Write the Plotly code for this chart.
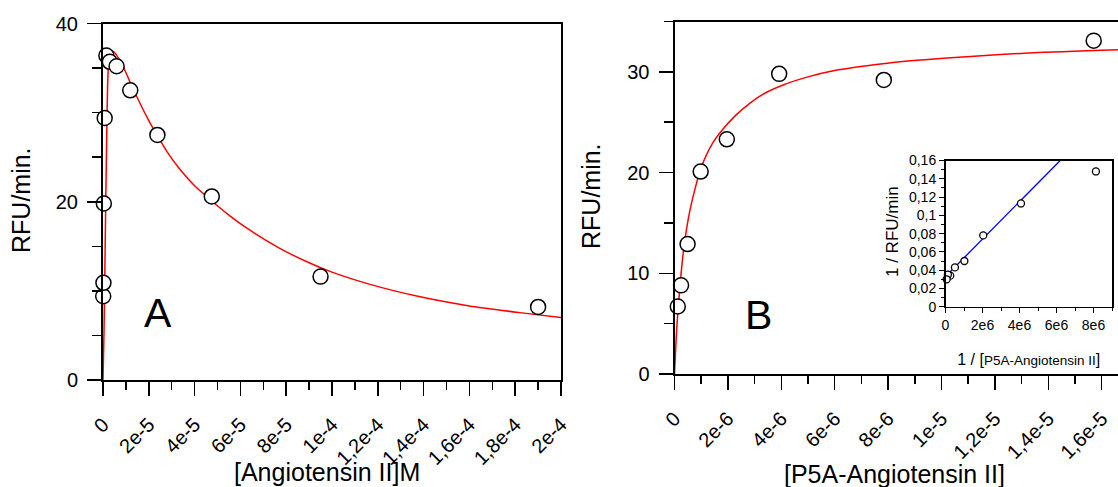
import plotly.graph_objects as go

W, H = 1118, 487
FONT = "Liberation Sans, Arial, sans-serif"

# ---------------- data ----------------
# Panel A: Angiotensin II (M) vs RFU/min
a_conc = [9.3e-8, 1.86e-7, 3.7e-7, 7.4e-7, 1.48e-6, 2.97e-6, 5.94e-6, 1.19e-5,
          2.375e-5, 4.75e-5, 9.5e-5, 1.9e-4]
a_rate = [9.4, 10.9, 19.8, 29.4, 36.4, 35.7, 35.2, 32.5, 27.5, 20.6, 11.6, 8.2]

# fitted curve A
a_fit_x = [0, 2e-7, 4.5e-7, 8e-7, 1.2e-6, 1.6e-6, 2e-6, 2.4e-6, 2.9e-6, 3.5e-6,
           4.3e-6, 5.5e-6, 7e-6, 8.5e-6, 1e-5, 1.2e-5, 1.4e-5, 1.7e-5, 2e-5,
           2.4e-5, 2.8e-5, 3.4e-5, 4e-5, 4.7e-5, 5.5e-5, 6.3e-5, 7.7e-5, 9e-5,
           1e-4, 1.17e-4, 1.38e-4, 1.6e-4, 1.82e-4, 2e-4]
a_fit_y = [0, 2.5, 5.5, 12, 20, 27, 33.0, 35.3, 36.4, 36.8, 36.9, 36.6, 36.0,
           35.3, 34.5, 33.3, 32.2, 30.6, 29.1, 27.3, 25.6, 23.5, 21.8, 20.2,
           18.5, 17.0, 14.8, 13.15, 12.1, 10.7, 9.36, 8.31, 7.56, 7.0]

# Panel B: P5A-Angiotensin II vs RFU/min
b_conc = [1.23e-7, 2.45e-7, 4.9e-7, 9.8e-7, 1.96e-6, 3.92e-6, 7.84e-6, 1.57e-5]
b_rate = [6.7, 8.8, 12.9, 20.1, 23.3, 29.8, 29.2, 33.1]

b_fit_x = [0, 9e-8, 2.2e-7, 3.4e-7, 5.3e-7, 7.8e-7, 1.0e-6, 1.4e-6, 1.78e-6,
           2.3e-6, 2.83e-6, 3.4e-6, 4.07e-6, 5e-6, 5.95e-6, 7.2e-6, 8.45e-6,
           1.094e-5, 1.344e-5, 1.661e-5]
b_fit_y = [0, 4.8, 9.2, 12.3, 15.6, 18.5, 20.5, 22.8, 24.2, 25.7, 26.9, 27.9,
           28.7, 29.5, 30.1, 30.6, 31.0, 31.5, 31.9, 32.2]

# Inset: Lineweaver-Burk
lb_x = [8.13e6, 4.08e6, 2.04e6, 1.02e6, 5.1e5, 2.55e5, 1.28e5, 6.4e4]
lb_y = [0.148, 0.113, 0.078, 0.050, 0.043, 0.034, 0.035, 0.030]
lb_line_x = [0, 6.2e6]
lb_line_y = [0.033, 0.16]

# tick labels
a_xticks = [0, 2e-5, 4e-5, 6e-5, 8e-5, 1e-4, 1.2e-4, 1.4e-4, 1.6e-4, 1.8e-4, 2e-4]
a_xlabels = ["0", "2e-5", "4e-5", "6e-5", "8e-5", "1e-4", "1,2e-4", "1,4e-4",
             "1,6e-4", "1,8e-4", "2e-4"]
a_yticks = [0, 20, 40]
b_xticks = [0, 2e-6, 4e-6, 6e-6, 8e-6, 1e-5, 1.2e-5, 1.4e-5, 1.6e-5]
b_xlabels = ["0", "2e-6", "4e-6", "6e-6", "8e-6", "1e-5", "1,2e-5", "1,4e-5", "1,6e-5"]
b_yticks = [0, 10, 20, 30]
in_xticks = [0, 2e6, 4e6, 6e6, 8e6]
in_xlabels = ["0", "2e6", "4e6", "6e6", "8e6"]
in_yticks = [0, 0.02, 0.04, 0.06, 0.08, 0.1, 0.12, 0.14, 0.16]
in_ylabels = ["0", "0,02", "0,04", "0,06", "0,08", "0,1", "0,12", "0,14", "0,16"]

# ---------------- figure ----------------
fig = go.Figure()
RED = "#ff0000"
marker_big = dict(symbol="circle", size=15, color="white",
                  line=dict(color="black", width=1.5))

fig.add_trace(go.Scatter(x=a_fit_x, y=a_fit_y, mode="lines",
                         line=dict(color=RED, width=1.5, shape="spline", smoothing=0.6),
                         xaxis="x", yaxis="y", showlegend=False))
fig.add_trace(go.Scatter(x=a_conc, y=a_rate, mode="markers", marker=marker_big,
                         cliponaxis=False, xaxis="x", yaxis="y", showlegend=False))
fig.add_trace(go.Scatter(x=b_fit_x, y=b_fit_y, mode="lines",
                         line=dict(color=RED, width=1.5, shape="spline", smoothing=0.6),
                         xaxis="x2", yaxis="y2", showlegend=False))
fig.add_trace(go.Scatter(x=b_conc, y=b_rate, mode="markers", marker=marker_big,
                         cliponaxis=False, xaxis="x2", yaxis="y2", showlegend=False))
fig.add_trace(go.Scatter(x=lb_line_x, y=lb_line_y, mode="lines",
                         line=dict(color="#0000ff", width=1.3),
                         xaxis="x3", yaxis="y3", showlegend=False))
fig.add_trace(go.Scatter(x=lb_x, y=lb_y, mode="markers",
                         marker=dict(symbol="circle", size=7, color="white",
                                     line=dict(color="black", width=1.3)),
                         cliponaxis=False, xaxis="x3", yaxis="y3", showlegend=False))

tickfont = dict(family=FONT, size=20, color="black")
smallfont = dict(family=FONT, size=14, color="black")

def main_axis(**kw):
    d = dict(showgrid=False, zeroline=False, showline=True, linecolor="black",
             linewidth=2, ticks="outside", ticklen=14, tickwidth=1.5,
             tickcolor="black", tickfont=tickfont, fixedrange=True,
             automargin=False)
    d.update(kw)
    return d

fig.update_layout(
    template="none",
    width=W, height=H, autosize=False,
    margin=dict(l=0, r=0, t=0, b=0, pad=0),
    paper_bgcolor="white", plot_bgcolor="rgba(0,0,0,0)",
    font=dict(family=FONT, color="black"),
    xaxis=main_axis(domain=[103 / W, 561 / W], range=[0, 2e-4], anchor="y",
                    tickmode="array", tickvals=a_xticks, ticktext=a_xlabels,
                    tickangle=-45, mirror=True, ticklabelstandoff=9,
                    minor=dict(dtick=1e-5, tick0=0, ticklen=8, ticks="outside",
                               tickcolor="black", tickwidth=1.5)),
    yaxis=main_axis(domain=[(H - 380) / H, (H - 23.5) / H], range=[0, 40], anchor="x",
                    tickmode="array", tickvals=a_yticks, mirror=True,
                    ticklabelstandoff=5,
                    minor=dict(dtick=5, tick0=0, ticklen=9, ticks="outside",
                               tickcolor="black", tickwidth=1.5)),
    xaxis2=main_axis(domain=[674.5 / W, 1.0], range=[0, 1.661e-5], anchor="y2",
                     tickmode="array", tickvals=b_xticks, ticktext=b_xlabels,
                     tickangle=-45, mirror=True, ticklabelstandoff=9,
                     minor=dict(dtick=1e-6, tick0=0, ticklen=8, ticks="outside",
                                tickcolor="black", tickwidth=1.5)),
    yaxis2=main_axis(domain=[(H - 374) / H, (H - 21.5) / H], range=[0, 35], anchor="x2",
                     tickmode="array", tickvals=b_yticks, mirror=False,
                     ticklabelstandoff=5,
                     minor=dict(dtick=5, tick0=0, ticklen=9, ticks="outside",
                                tickcolor="black", tickwidth=1.5)),
    xaxis3=dict(domain=[945.5 / W, 1112 / W], range=[0, 9e6], anchor="y3",
                showgrid=False, zeroline=False, showline=True, linecolor="black",
                linewidth=1.5, mirror=True, ticks="outside", ticklen=5, tickwidth=1,
                tickcolor="black", tickmode="array", tickvals=in_xticks,
                ticktext=in_xlabels, tickfont=smallfont, fixedrange=True,
                automargin=False,
                title=dict(text="1 / [<span style='font-size:13.5px'>P5A-Angiotensin II</span>]",
                           font=dict(family=FONT, size=16, color="black")),
                minor=dict(dtick=1e6, tick0=0, ticklen=3, ticks="outside",
                           tickcolor="black", tickwidth=1)),
    yaxis3=dict(domain=[(H - 306.7) / H, (H - 160.5) / H], range=[0, 0.16], anchor="x3",
                showgrid=False, zeroline=False, showline=True, linecolor="black",
                linewidth=1.5, mirror=True, ticks="outside", ticklen=5, tickwidth=1,
                tickcolor="black", tickmode="array", tickvals=in_yticks,
                ticktext=in_ylabels, tickfont=smallfont, fixedrange=True,
                automargin=False,
                minor=dict(dtick=0.01, tick0=0, ticklen=3, ticks="outside",
                           tickcolor="black", tickwidth=1)),
)

def ann(text, px, py, size, angle=0, xanchor="center"):
    fig.add_annotation(text=text, x=px / W, y=1 - py / H, xref="paper", yref="paper",
                       showarrow=False, textangle=angle, xanchor=xanchor,
                       yanchor="middle", font=dict(family=FONT, size=size, color="black"))

ann("RFU/min.", 21, 200, 25, -90)
ann("[Angiotensin II]M", 327, 472, 25)
ann("RFU/min.", 591, 196, 25, -90)
ann("[P5A-Angiotensin II]", 894, 474, 25)
ann("A", 158, 313, 41)
ann("B", 758, 315, 41)
ann("1 / RFU/min", 893, 232, 17, -90)

fig.write_html("out.html",
               config={"displayModeBar": False, "staticPlot": True},
               post_script="document.body.style.margin='0';"
                           "document.body.style.overflow='hidden';"
                           "document.documentElement.style.overflow='hidden';")
